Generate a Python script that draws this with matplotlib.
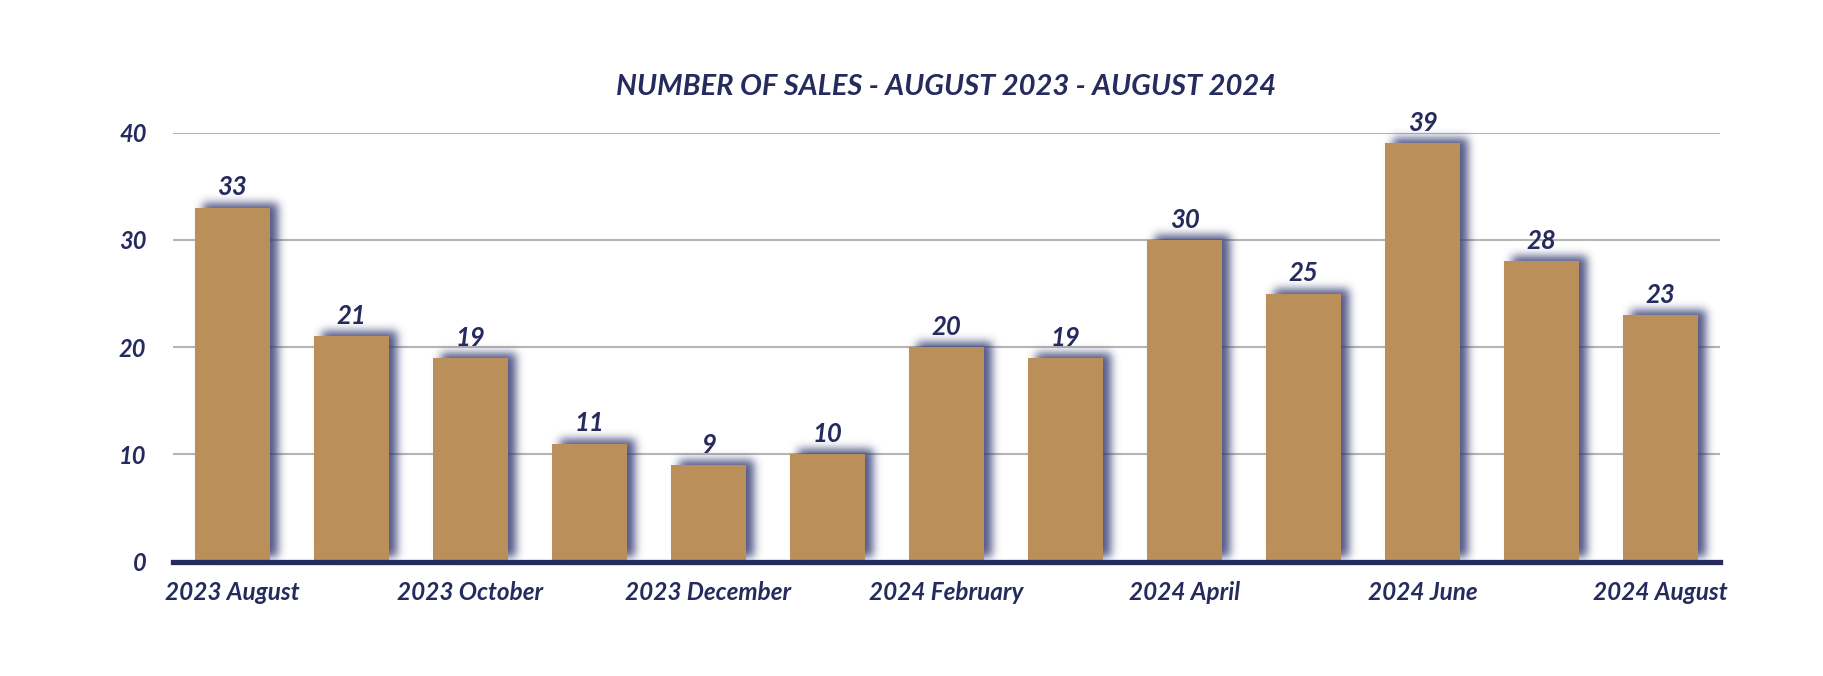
import numpy as np
import matplotlib
matplotlib.use('Agg')
import matplotlib.pyplot as plt

months = ['2023 August', '2023 September', '2023 October', '2023 November',
          '2023 December', '2024 January', '2024 February', '2024 March',
          '2024 April', '2024 May', '2024 June', '2024 July', '2024 August']
sales = [33, 21, 19, 11, 9, 10, 20, 19, 30, 25, 39, 28, 23]
y_ticks = [0, 10, 20, 30, 40]

NAVY = '#262b5e'
TAN = '#bb8f5a'
GRID = '#b5b5b5'
FONT = dict(family=['Lato', 'DejaVu Sans'], fontweight='bold', fontstyle='italic', color=NAVY)


def gauss_blur(a, sigma):
    r = int(3 * sigma)
    k = np.exp(-0.5 * (np.arange(-r, r + 1) / sigma) ** 2)
    k /= k.sum()
    a = np.apply_along_axis(lambda v: np.convolve(v, k, mode='same'), 0, a)
    a = np.apply_along_axis(lambda v: np.convolve(v, k, mode='same'), 1, a)
    return a


class DropShadow:
    # blurred navy shadow, shifted right and up
    def __init__(self, sigma=4.5, dx=8, dy=5, alpha=0.85, color=(0.2, 0.23, 0.45)):
        self.sigma, self.dx, self.dy = sigma, dx, dy
        self.alpha, self.color = alpha, color

    def __call__(self, im, dpi):
        pad = int(3 * self.sigma) + 2
        a = np.pad(im[:, :, 3], pad)
        a = gauss_blur(a, self.sigma) * self.alpha
        out = np.zeros(a.shape + (4,))
        out[:, :, 0], out[:, :, 1], out[:, :, 2] = self.color
        out[:, :, 3] = np.clip(a, 0, 1)
        return out, self.dx - pad, self.dy - pad


fig = plt.figure(figsize=(18.24, 6.76), dpi=100)
ax = fig.add_axes([0.0948, 0.1691, 0.8482, 0.6346])

x = np.arange(len(months))

shadow = ax.bar(x, sales, width=0.63, color=TAN, zorder=2)
for p in shadow:
    p.set_agg_filter(DropShadow())
    p.set_rasterized(True)
bars = ax.bar(x, sales, width=0.63, color=TAN, zorder=3)

for xi, v in zip(x, sales):
    ax.annotate(str(v), (xi, v), xytext=(0, 6), textcoords='offset points',
                ha='center', va='bottom', fontsize=18.5, **FONT, zorder=5)

ax.set_xlim(-0.5, len(months) - 0.5)
ax.set_ylim(0, 40)
ax.set_yticks(y_ticks)
ax.set_yticklabels([str(t) for t in y_ticks], **FONT, fontsize=17)
ax.set_xticks(x[::2])
ax.set_xticklabels(months[::2], **FONT, fontsize=17.5)
ax.tick_params(axis='y', length=0, pad=19)
ax.tick_params(axis='x', length=0, pad=14)

ax.grid(axis='y', color=GRID, linewidth=1.5, zorder=0)
ax.set_axisbelow(True)
for s in ax.spines.values():
    s.set_visible(False)
ax.axhline(0, color=NAVY, linewidth=3.8, zorder=6, clip_on=False)

ax.set_title('NUMBER OF SALES - AUGUST 2023 - AUGUST 2024', fontsize=21, pad=27, **FONT)

plt.savefig('out.png', dpi=100)
